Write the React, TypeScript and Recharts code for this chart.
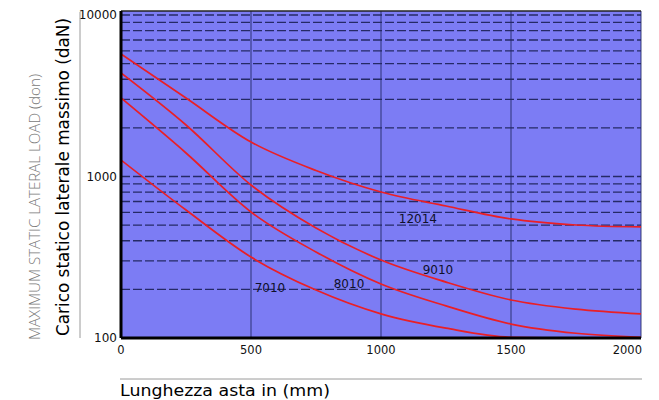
import { CartesianGrid, LineChart, Line, ReferenceDot, ReferenceLine, XAxis, YAxis } from 'recharts';

// Rod length (mm) and max static lateral load (daN).
const lengths = [0, 250, 500, 750, 1000, 1250, 1500, 1750, 2000];
const load12014 = [5735, 3060, 1635, 1090, 802, 657, 546, 501, 487];
const load9010 = [4374, 2084, 886, 480, 304, 222, 172, 151, 141];
const load8010 = [3062, 1398, 603, 341, 216, 158, 122, 107, 101];
const load7010 = [1265, 620, 317, 198, 141, 115, 101, 100, 100];

const xTicks = [0, 500, 1000, 1500, 2000];
const yTicks = [100, 1000, 10000];
const gridValues = [
  200, 300, 400, 500, 600, 700, 800, 900, 1000,
  2000, 3000, 4000, 5000, 6000, 7000, 8000, 9000, 10000,
];

// where the series names sit inside the plot
const seriesLabels = [
  { name: '12014', x: 1142, y: 546 },
  { name: '9010', x: 1219, y: 264 },
  { name: '8010', x: 877, y: 216 },
  { name: '7010', x: 573, y: 204 },
];

const rows = lengths.map((length, i) => ({
  length,
  s12014: load12014[i],
  s9010: load9010[i],
  s8010: load8010[i],
  s7010: load7010[i],
}));

const RED = '#ea1f26';
const GRID = '#252a66';
const TICK_FONT = 'DejaVu Sans, Verdana, sans-serif';

function XTick(props: any) {
  const { x, y, payload } = props;
  const last = payload.value === 2000;
  return (
    <text
      x={last ? x + 1 : x}
      y={y}
      dy="0.71em"
      textAnchor={last ? 'end' : 'middle'}
      fontSize={11.5}
      fontFamily={TICK_FONT}
      fill="#111"
    >
      {payload.value}
    </text>
  );
}

export default function App() {
  return (
    <div style={{ position: 'absolute', left: 0, top: 0, width: 659, height: 400, background: '#fff' }}>
      <LineChart width={659} height={400} data={rows} margin={{ top: 11, right: 18, bottom: 32, left: 0 }}>
        <CartesianGrid fill="#7c7cf4" horizontal={false} stroke={GRID} strokeOpacity={0.9} />
        {gridValues.map((v) => (
          <ReferenceLine key={v} y={v} stroke={GRID} strokeWidth={1.3} strokeDasharray="9 3" />
        ))}
        <ReferenceLine y={10587} stroke="#222" strokeWidth={1.5} ifOverflow="extendDomain" />
        <XAxis
          type="number"
          dataKey="length"
          domain={[0, 2000]}
          ticks={xTicks}
          height={30}
          tickLine={false}
          tickSize={6}
          tickMargin={2}
          axisLine={{ stroke: '#000', strokeWidth: 3 }}
          tick={<XTick />}
          allowDataOverflow
        />
        <YAxis
          type="number"
          scale="log"
          domain={[100, 10587]}
          ticks={yTicks}
          width={121}
          tickLine={false}
          tickSize={2}
          tickMargin={2}
          axisLine={{ stroke: '#000', strokeWidth: 3 }}
          tick={{ fontSize: 12, fontFamily: TICK_FONT, fill: '#111' }}
          allowDataOverflow
        />
        <Line type="monotone" dataKey="s12014" stroke={RED} strokeWidth={1.7} dot={false} isAnimationActive={false} />
        <Line type="monotone" dataKey="s9010" stroke={RED} strokeWidth={1.7} dot={false} isAnimationActive={false} />
        <Line type="monotone" dataKey="s8010" stroke={RED} strokeWidth={1.7} dot={false} isAnimationActive={false} />
        <Line type="monotone" dataKey="s7010" stroke={RED} strokeWidth={1.7} dot={false} isAnimationActive={false} />
        {seriesLabels.map((s) => (
          <ReferenceDot
            key={s.name}
            x={s.x}
            y={s.y}
            r={0}
            stroke="none"
            fill="none"
            label={{ value: s.name, position: 'center', fontSize: 12, fontFamily: TICK_FONT, fill: '#10102a' }}
          />
        ))}
      </LineChart>
      <svg width={659} height={400} style={{ position: 'absolute', left: 0, top: 0, pointerEvents: 'none' }}>
        <line x1={80} y1={12} x2={80} y2={338} stroke="#9a9a9a" strokeWidth={1} />
        <line x1={120} y1={379} x2={642} y2={379} stroke="#9a9a9a" strokeWidth={1} />
        <text
          transform="translate(40,207) rotate(-90)"
          textAnchor="middle"
          fontSize={14.5}
          fontFamily="Open Sans, sans-serif"
          fontWeight={300}
          fill="#7a7a7a"
          textLength={266}
          lengthAdjust="spacingAndGlyphs"
        >
          MAXIMUM STATIC LATERAL LOAD (don)
        </text>
        <text
          transform="translate(69,177) rotate(-90)"
          textAnchor="middle"
          fontSize={17}
          fontFamily="DejaVu Sans, sans-serif"
          fill="#000"
          textLength={318}
          lengthAdjust="spacingAndGlyphs"
        >
          Carico statico laterale massimo (daN)
        </text>
        <text
          x={120}
          y={396}
          fontSize={16}
          fontFamily="DejaVu Sans, sans-serif"
          fill="#000"
          textLength={210}
          lengthAdjust="spacingAndGlyphs"
        >
          Lunghezza asta in (mm)
        </text>
      </svg>
    </div>
  );
}
